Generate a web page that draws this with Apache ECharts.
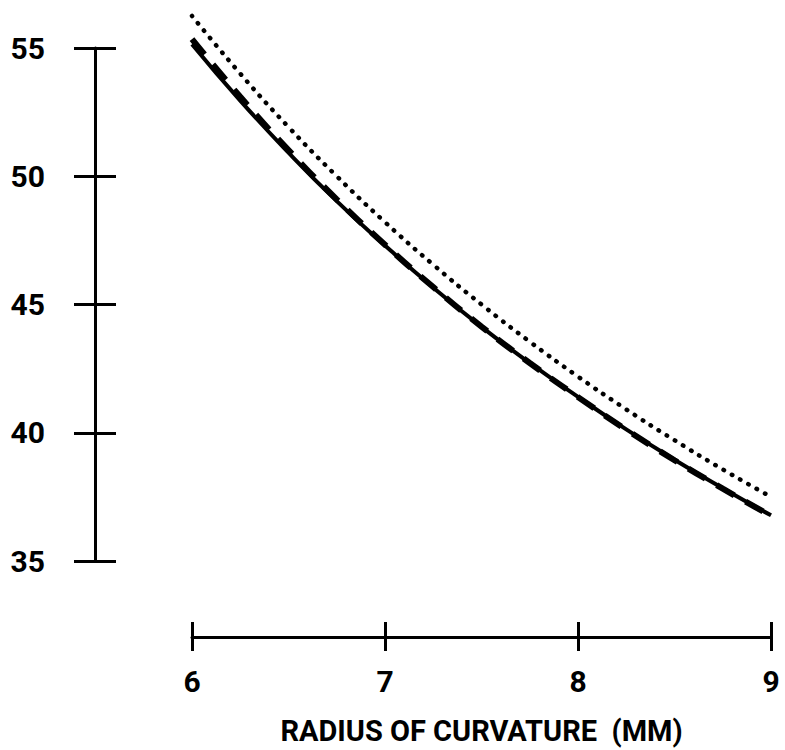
<!DOCTYPE html>
<html>
<head>
<meta charset="utf-8">
<script src="https://cdn.jsdelivr.net/npm/echarts@6/dist/echarts.min.js"></script>
<style>
html,body{margin:0;padding:0;background:#fff;}
#chart{width:785px;height:750px;}
</style>
</head>
<body>
<div id="chart"></div>
<script>
// Radius of curvature (mm)
const radius = [6.00, 6.25, 6.50, 6.75, 7.00, 7.25, 7.50, 7.75, 8.00, 8.25, 8.50, 8.75, 9.00];
// Solid curve
const solidValues = [55.15, 52.95, 50.92, 49.03, 47.30, 45.66, 44.13, 42.72, 41.40, 40.13, 38.95, 37.84, 36.78];
// Dashed curve
const dashedValues = [55.35, 53.10, 51.02, 49.10, 47.33, 45.68, 44.14, 42.72, 41.39, 40.12, 38.93, 37.82, 36.76];
// Dotted curve
const dottedValues = [56.25, 54.00, 51.92, 50.00, 48.21, 46.55, 45.00, 43.55, 42.19, 40.91, 39.71, 38.57, 37.50];
const xTicks = [6, 7, 8, 9];
const yTicks = [35, 40, 45, 50, 55];
const xTitle = 'RADIUS OF CURVATURE  (MM)';

const FONT = "Roboto, 'DejaVu Sans', sans-serif";
const pairs = vals => radius.map((r, i) => [r, vals[i]]);

const chart = echarts.init(document.getElementById('chart'), null, {renderer: 'svg'});
const labelStyle = {color: '#000', fontFamily: FONT, fontWeight: 'bold', fontSize: 30};

const xBase = {
  type: 'value', min: xTicks[0], max: xTicks[xTicks.length - 1], interval: 1,
  position: 'bottom', offset: 76, splitLine: {show: false}
};
const yBase = {
  type: 'value', min: yTicks[0], max: yTicks[yTicks.length - 1], interval: 5,
  position: 'left', offset: 97, splitLine: {show: false}
};

chart.setOption({
  animation: false,
  backgroundColor: '#fff',
  grid: {left: 192, right: 14, top: 48, bottom: 181, containLabel: false},
  xAxis: [
    Object.assign({}, xBase, {
      axisLine: {show: true, lineStyle: {color: '#000', width: 3}},
      axisTick: {show: true, inside: false, length: 14, lineStyle: {color: '#000', width: 3}},
      axisLabel: Object.assign({margin: 29}, labelStyle),
      name: xTitle, nameLocation: 'middle', nameGap: 79,
      nameTextStyle: {color: '#000', fontFamily: FONT, fontWeight: 'bold', fontSize: 29}
    }),
    Object.assign({}, xBase, {
      axisLine: {show: false},
      axisTick: {show: true, inside: true, length: 15, lineStyle: {color: '#000', width: 3}},
      axisLabel: {show: false}
    })
  ],
  yAxis: [
    Object.assign({}, yBase, {
      axisLine: {show: true, lineStyle: {color: '#000', width: 3}},
      axisTick: {show: true, inside: false, length: 21, lineStyle: {color: '#000', width: 3}},
      axisLabel: Object.assign({margin: 50}, labelStyle)
    }),
    Object.assign({}, yBase, {
      axisLine: {show: false},
      axisTick: {show: true, inside: true, length: 21, lineStyle: {color: '#000', width: 3}},
      axisLabel: {show: false}
    })
  ],
  series: [
    {
      type: 'line', name: 'solid', data: pairs(solidValues), smooth: true, symbol: 'none',
      xAxisIndex: 0, yAxisIndex: 0, clip: false,
      lineStyle: {color: '#000', width: 4, type: 'solid'}
    },
    {
      type: 'line', name: 'dashed', data: pairs(dashedValues), smooth: true, symbol: 'none',
      xAxisIndex: 0, yAxisIndex: 0, clip: false,
      lineStyle: {color: '#000', width: 6, type: [20, 13]}
    },
    {
      type: 'line', name: 'dotted', data: pairs(dottedValues), smooth: true, symbol: 'none',
      xAxisIndex: 0, yAxisIndex: 0, clip: false,
      lineStyle: {color: '#000', width: 4.5, type: [0.5, 9], cap: 'round'}
    }
  ]
});
</script>
</body>
</html>
